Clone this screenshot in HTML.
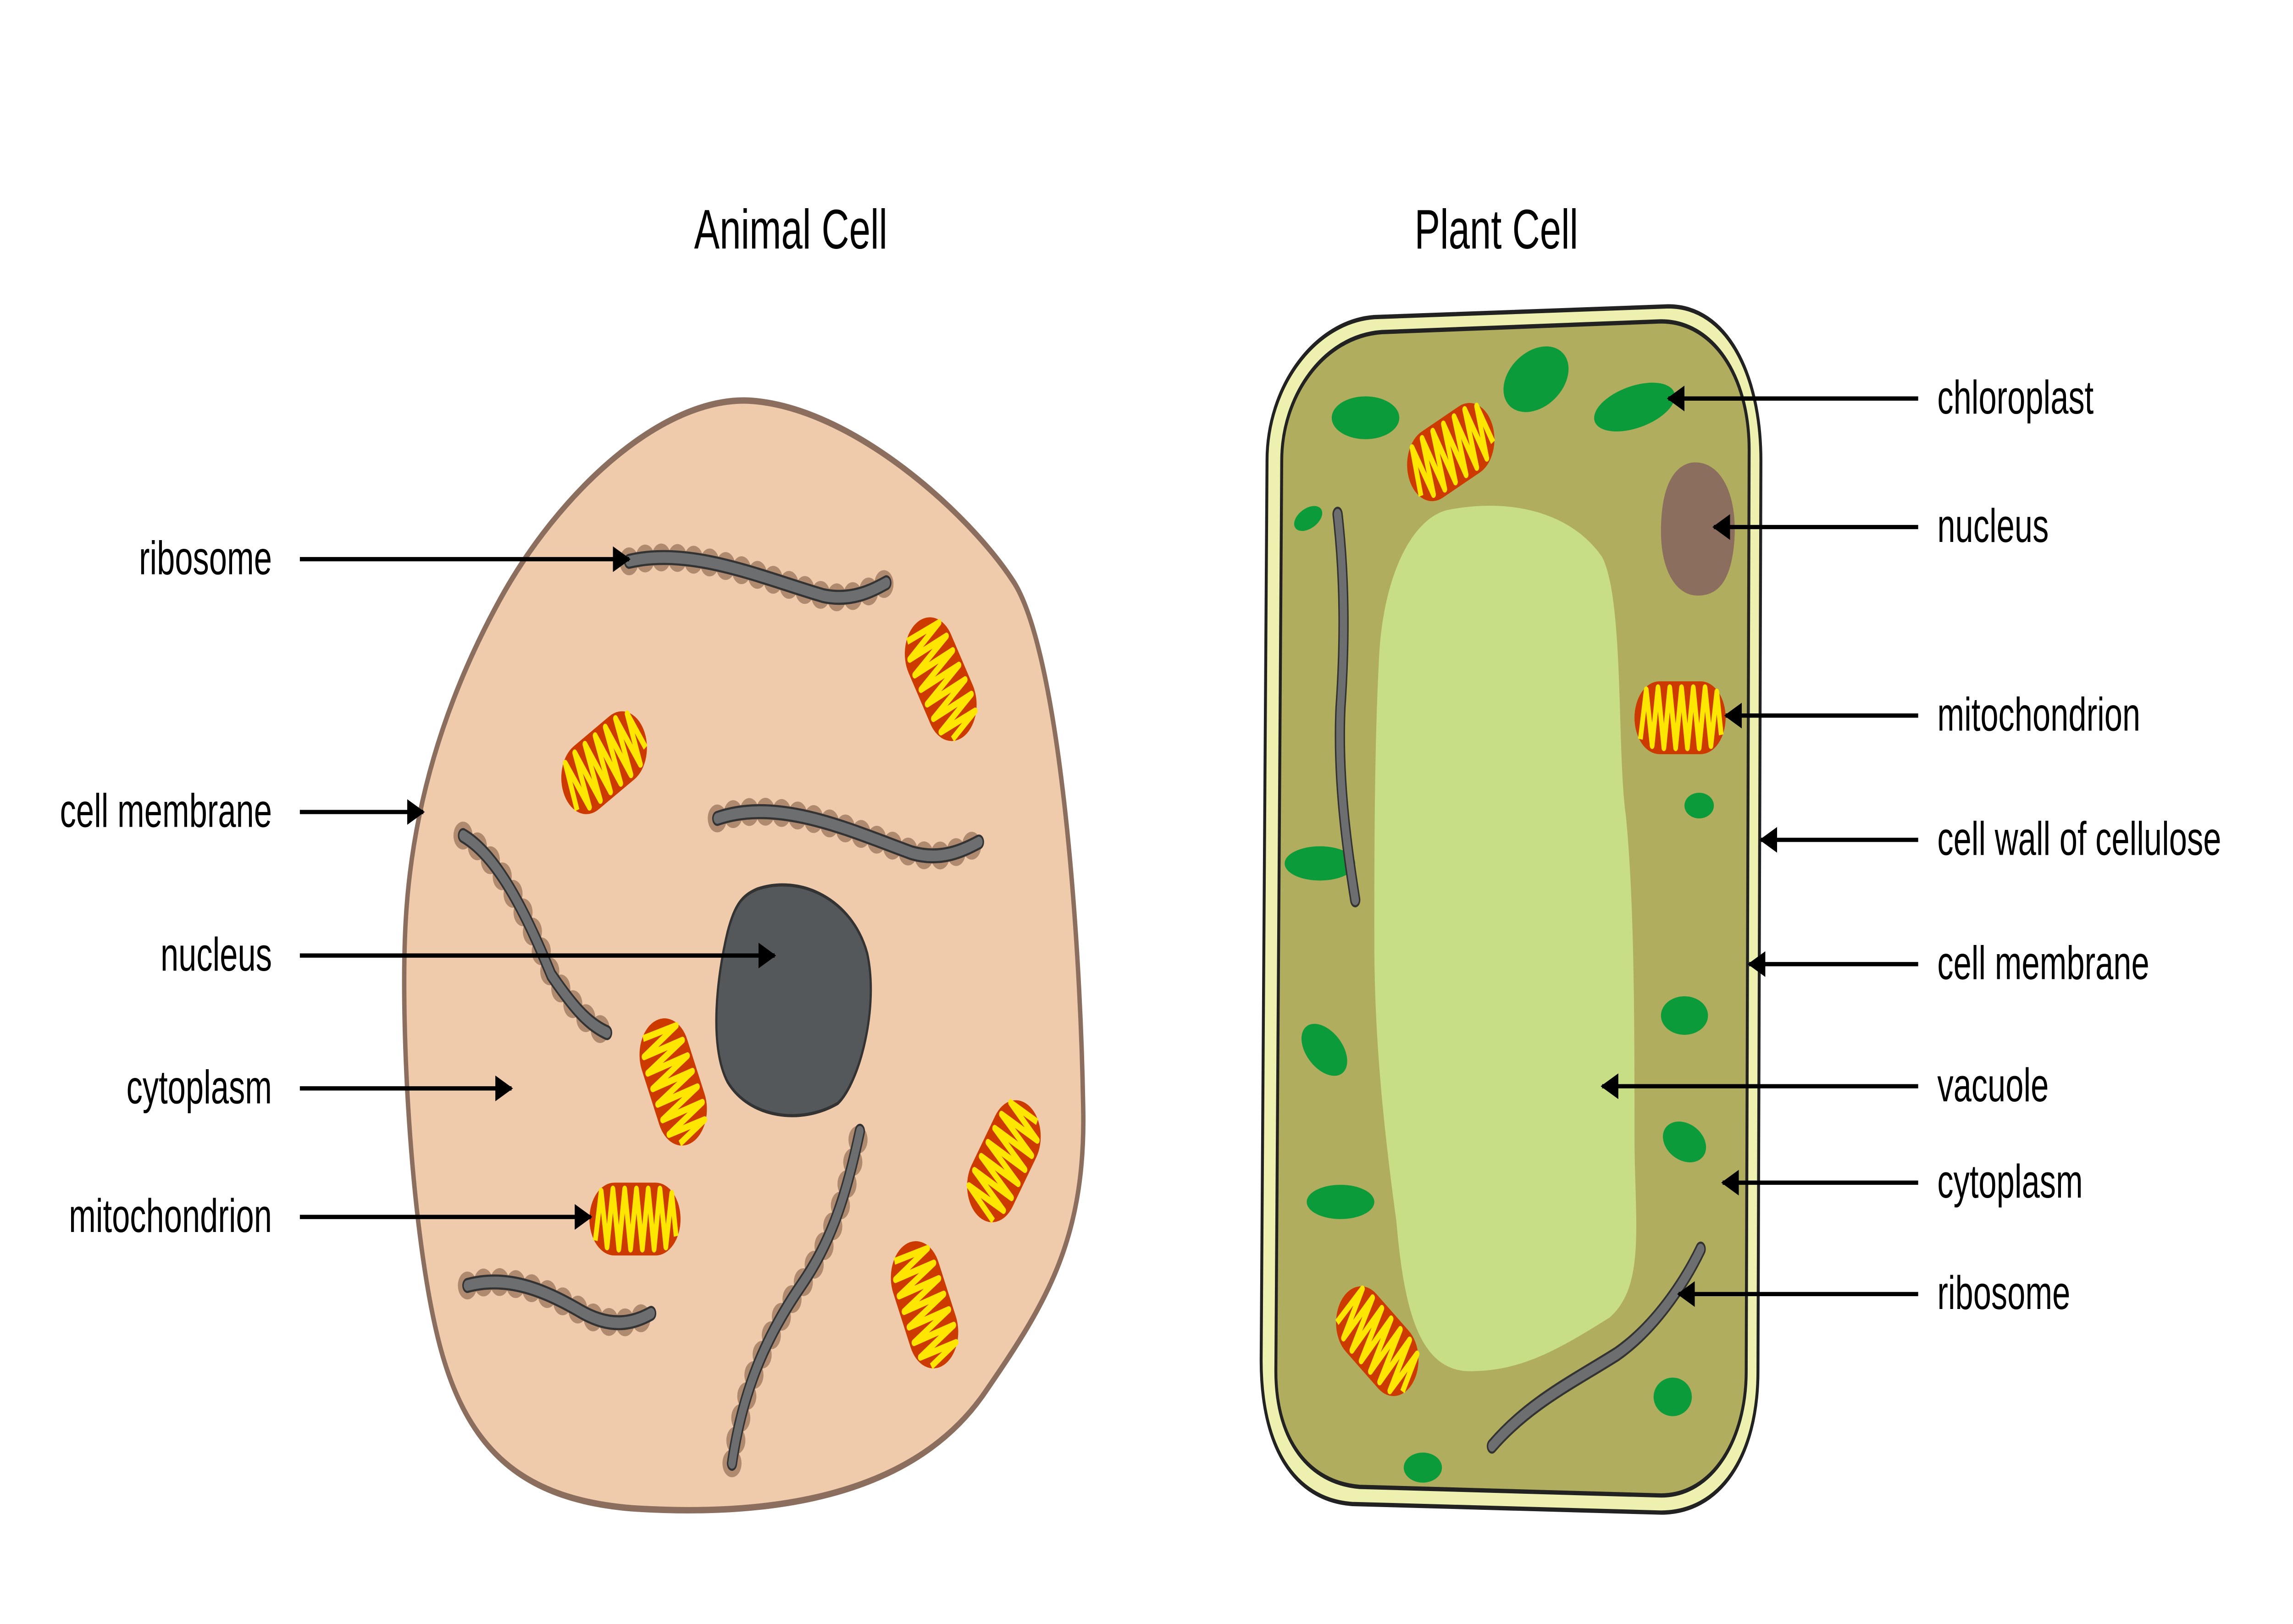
<!DOCTYPE html>
<html><head><meta charset="utf-8">
<style>html,body{margin:0;padding:0;background:#fff;overflow:hidden;width:100vw;height:100vh}svg{display:block;position:absolute;left:0;top:0;width:100vw;height:100vh}</style></head><body>
<svg viewBox="0 0 1560 758" preserveAspectRatio="none" xmlns="http://www.w3.org/2000/svg" font-family="Liberation Sans, DejaVu Sans, sans-serif">
<defs>
<g id="mito">
<rect x="-31" y="-17" width="62" height="34" rx="17" fill="#cc3a00"/>
<polyline points="-27,10 -23,-13 -19,13 -15,-14 -11,14 -7,-14 -3,14 1,-14 5,14 9,-14 13,14 17,-14 21,13 25,-12 28,8" fill="none" stroke="#ffe600" stroke-width="3.2" stroke-linejoin="round"/>
</g>
<marker id="ar" markerWidth="12" markerHeight="12" refX="11" refY="6" orient="auto" markerUnits="userSpaceOnUse"><path d="M0,0 L12,6 L0,12 z" fill="#000"/></marker>
</defs>
<rect width="1560" height="758" fill="#fff"/>
<text x="538" y="116" font-size="26" text-anchor="middle">Animal Cell</text>
<text x="1018" y="116" font-size="26" text-anchor="middle">Plant Cell</text>

<path d="M510,187 C580,190 660,240 690,272 C720,305 735,430 737,520 C738,580 710,610 670,650 C620,700 520,708 430,704 C360,700 320,680 300,630 C280,580 272,480 276,430 C280,380 300,330 340,280 C380,230 450,185 510,187 Z" fill="#f0cbab" stroke="#8b6e5e" stroke-width="3"/>
<path d="M515,415 C545,408 580,420 590,445 C598,470 585,505 570,515 C545,525 510,522 495,505 C482,488 488,455 495,435 C500,422 505,418 515,415 Z" fill="#55585a" stroke="#333" stroke-width="1.5"/>
<g fill="none" stroke-linecap="round">
<g stroke="#b08a6e" stroke-width="13" stroke-dasharray="0 11">
<path d="M428,262 C470,255 520,270 560,278 C580,281 595,275 603,272"/>
<path d="M488,382 C530,372 580,388 620,398 C640,402 655,397 666,393"/>
<path d="M315,390 C340,400 360,430 375,455 C390,470 400,478 413,482"/>
<path d="M318,600 C345,595 370,602 395,612 C415,620 430,618 443,613"/>
<path d="M498,683 C505,650 520,625 545,600 C565,580 575,560 585,528"/>
<path d="M910,240 C915,270 915,300 912,330 C910,360 915,390 922,420"/>
<path d="M1015,675 C1040,655 1070,645 1100,632 C1125,620 1145,600 1157,583"/>
</g>
<g stroke="#333" stroke-width="7">
<path d="M428,262 C470,255 520,270 560,278 C580,281 595,275 603,272"/>
<path d="M488,382 C530,372 580,388 620,398 C640,402 655,397 666,393"/>
<path d="M315,390 C340,400 360,430 375,455 C390,470 400,478 413,482"/>
<path d="M318,600 C345,595 370,602 395,612 C415,620 430,618 443,613"/>
<path d="M498,683 C505,650 520,625 545,600 C565,580 575,560 585,528"/>
</g>
<g stroke="#6d6e70" stroke-width="5">
<path d="M428,262 C470,255 520,270 560,278 C580,281 595,275 603,272"/>
<path d="M488,382 C530,372 580,388 620,398 C640,402 655,397 666,393"/>
<path d="M315,390 C340,400 360,430 375,455 C390,470 400,478 413,482"/>
<path d="M318,600 C345,595 370,602 395,612 C415,620 430,618 443,613"/>
<path d="M498,683 C505,650 520,625 545,600 C565,580 575,560 585,528"/>
</g>
</g>
<use href="#mito" transform="translate(640,317) rotate(58)"/>
<use href="#mito" transform="translate(411,356) rotate(-30)"/>
<use href="#mito" transform="translate(458,505) rotate(65)"/>
<use href="#mito" transform="translate(683,542) rotate(-55)"/>
<use href="#mito" transform="translate(432,569)"/>
<use href="#mito" transform="translate(629,609) rotate(65)"/>

<path d="M935,148 L1135,143 C1175,143 1198,175 1198,215 L1196,640 C1196,680 1170,706 1130,706 L920,702 C880,700 858,675 858,635 L862,215 C862,180 895,150 935,148 Z" fill="#eef0b0" stroke="#222" stroke-width="2"/>
<path d="M940,155 L1130,150 C1165,150 1190,175 1190,210 L1188,640 C1188,672 1165,698 1130,698 L925,694 C890,692 868,672 868,640 L872,215 C872,185 900,157 940,155 Z" fill="#b0ad5e" stroke="#222" stroke-width="2"/>
<path d="M985,238 C1030,232 1070,240 1090,260 C1105,280 1100,350 1106,380 C1112,420 1112,480 1112,530 C1112,570 1120,600 1095,615 C1060,630 1035,640 1000,640 C965,640 955,610 950,570 C940,520 935,480 935,440 C935,400 935,350 938,310 C940,270 960,242 985,238 Z" fill="#c8de84"/>
<g fill="#0c9b3a">
<ellipse cx="929" cy="195" rx="23" ry="10"/>
<ellipse cx="1045" cy="177" rx="23" ry="14" transform="rotate(-20 1045 177)"/>
<ellipse cx="1112" cy="190" rx="28" ry="10" transform="rotate(-12 1112 190)"/>
<ellipse cx="890" cy="242" rx="10" ry="5" transform="rotate(-20 890 242)"/>
<ellipse cx="898" cy="403" rx="24" ry="8"/>
<ellipse cx="901" cy="490" rx="17" ry="10" transform="rotate(30 901 490)"/>
<ellipse cx="912" cy="561" rx="23" ry="8"/>
<ellipse cx="1156" cy="376" rx="10" ry="6"/>
<ellipse cx="1146" cy="474" rx="16" ry="9"/>
<ellipse cx="1146" cy="533" rx="15" ry="9" transform="rotate(15 1146 533)"/>
<ellipse cx="1138" cy="652" rx="13" ry="9"/>
<ellipse cx="968" cy="685" rx="13" ry="7"/>
</g>
<path d="M1150,216 C1170,214 1182,230 1180,252 C1178,270 1170,278 1155,278 C1140,278 1130,266 1130,248 C1130,228 1138,218 1150,216 Z" fill="#8b6e5e"/>
<g fill="none" stroke-linecap="round">
<g stroke="#333" stroke-width="7">
<path d="M910,240 C915,270 915,300 912,330 C910,360 915,390 922,420"/>
<path d="M1015,675 C1040,655 1070,645 1100,632 C1125,620 1145,600 1157,583"/>
</g>
<g stroke="#6d6e70" stroke-width="5">
<path d="M910,240 C915,270 915,300 912,330 C910,360 915,390 922,420"/>
<path d="M1015,675 C1040,655 1070,645 1100,632 C1125,620 1145,600 1157,583"/>
</g>
</g>
<use href="#mito" transform="translate(987,211) rotate(-25)"/>
<use href="#mito" transform="translate(1143,335)"/>
<use href="#mito" transform="translate(937,626) rotate(38)"/>

<g font-size="22" text-anchor="end">
<text x="185" y="268">ribosome</text>
<text x="185" y="386">cell membrane</text>
<text x="185" y="453">nucleus</text>
<text x="185" y="515">cytoplasm</text>
<text x="185" y="575">mitochondrion</text>
</g>
<g stroke="#000" stroke-width="2" marker-end="url(#ar)">
<line x1="204" y1="261" x2="428" y2="261"/>
<line x1="204" y1="379" x2="288" y2="379"/>
<line x1="204" y1="446" x2="527" y2="446"/>
<line x1="204" y1="508" x2="348" y2="508"/>
<line x1="204" y1="568" x2="402" y2="568"/>
<line x1="1305" y1="186" x2="1135" y2="186"/>
<line x1="1305" y1="246" x2="1166" y2="246"/>
<line x1="1305" y1="334" x2="1174" y2="334"/>
<line x1="1305" y1="392" x2="1198" y2="392"/>
<line x1="1305" y1="450" x2="1190" y2="450"/>
<line x1="1305" y1="507" x2="1090" y2="507"/>
<line x1="1305" y1="552" x2="1172" y2="552"/>
<line x1="1305" y1="604" x2="1142" y2="604"/>
</g>
<g font-size="22">
<text x="1318" y="193">chloroplast</text>
<text x="1318" y="253">nucleus</text>
<text x="1318" y="341">mitochondrion</text>
<text x="1318" y="399">cell wall of cellulose</text>
<text x="1318" y="457">cell membrane</text>
<text x="1318" y="514">vacuole</text>
<text x="1318" y="559">cytoplasm</text>
<text x="1318" y="611">ribosome</text>
</g>
</svg>
</body></html>
